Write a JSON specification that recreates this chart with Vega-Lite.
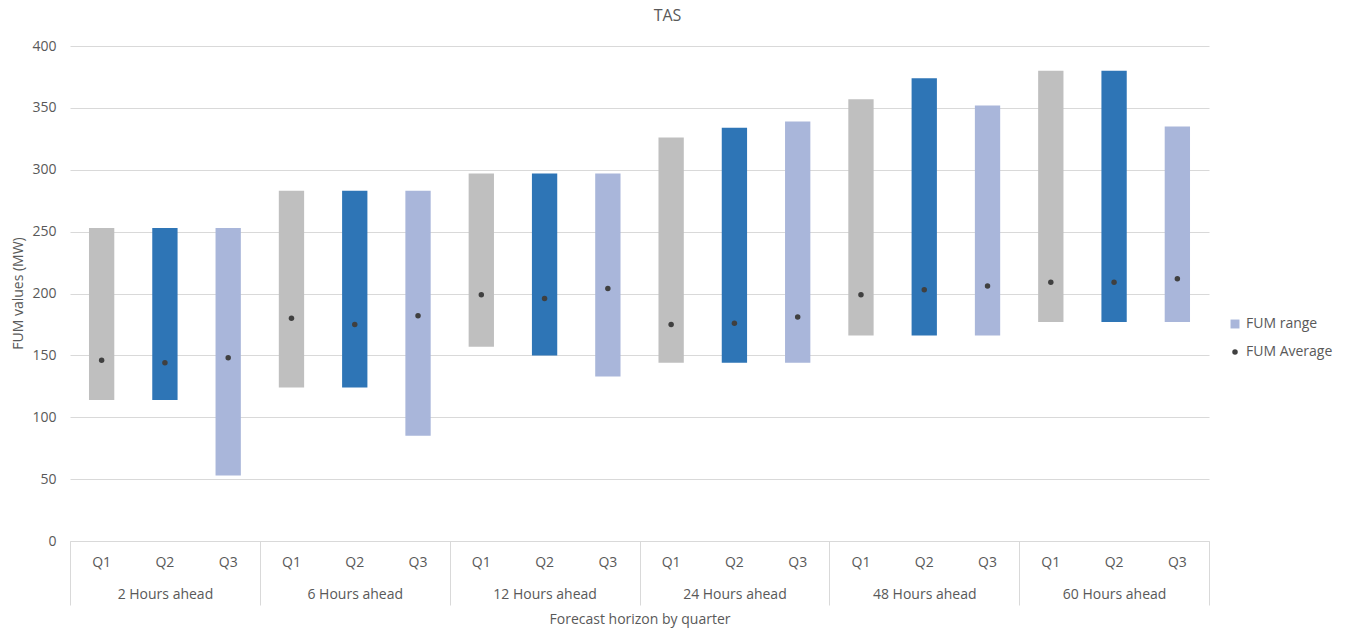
{
  "$schema": "https://vega.github.io/schema/vega-lite/v6.json",
  "autosize": "none",
  "width": 1139,
  "height": 495,
  "padding": {"left": 70, "top": 46, "right": 140, "bottom": 89},
  "background": "white",
  "title": {"text": "TAS", "anchor": "middle", "dx": 28, "offset": 15, "fontSize": 16, "font": "Open Sans", "fontWeight": "normal", "color": "#595959"},
  "config": {"view": {"stroke": null}, "font": "Open Sans"},
  "data": {"values": [
    {"horizon": "2 Hours ahead", "quarter": "Q1", "key": "2 Hours ahead Q1", "low": 114, "high": 253, "avg": 146},
    {"horizon": "2 Hours ahead", "quarter": "Q2", "key": "2 Hours ahead Q2", "low": 114, "high": 253, "avg": 144},
    {"horizon": "2 Hours ahead", "quarter": "Q3", "key": "2 Hours ahead Q3", "low": 53, "high": 253, "avg": 148},
    {"horizon": "6 Hours ahead", "quarter": "Q1", "key": "6 Hours ahead Q1", "low": 124, "high": 283, "avg": 180},
    {"horizon": "6 Hours ahead", "quarter": "Q2", "key": "6 Hours ahead Q2", "low": 124, "high": 283, "avg": 175},
    {"horizon": "6 Hours ahead", "quarter": "Q3", "key": "6 Hours ahead Q3", "low": 85, "high": 283, "avg": 182},
    {"horizon": "12 Hours ahead", "quarter": "Q1", "key": "12 Hours ahead Q1", "low": 157, "high": 297, "avg": 199},
    {"horizon": "12 Hours ahead", "quarter": "Q2", "key": "12 Hours ahead Q2", "low": 150, "high": 297, "avg": 196},
    {"horizon": "12 Hours ahead", "quarter": "Q3", "key": "12 Hours ahead Q3", "low": 133, "high": 297, "avg": 204},
    {"horizon": "24 Hours ahead", "quarter": "Q1", "key": "24 Hours ahead Q1", "low": 144, "high": 326, "avg": 175},
    {"horizon": "24 Hours ahead", "quarter": "Q2", "key": "24 Hours ahead Q2", "low": 144, "high": 334, "avg": 176},
    {"horizon": "24 Hours ahead", "quarter": "Q3", "key": "24 Hours ahead Q3", "low": 144, "high": 339, "avg": 181},
    {"horizon": "48 Hours ahead", "quarter": "Q1", "key": "48 Hours ahead Q1", "low": 166, "high": 357, "avg": 199},
    {"horizon": "48 Hours ahead", "quarter": "Q2", "key": "48 Hours ahead Q2", "low": 166, "high": 374, "avg": 203},
    {"horizon": "48 Hours ahead", "quarter": "Q3", "key": "48 Hours ahead Q3", "low": 166, "high": 352, "avg": 206},
    {"horizon": "60 Hours ahead", "quarter": "Q1", "key": "60 Hours ahead Q1", "low": 177, "high": 380, "avg": 209},
    {"horizon": "60 Hours ahead", "quarter": "Q2", "key": "60 Hours ahead Q2", "low": 177, "high": 380, "avg": 209},
    {"horizon": "60 Hours ahead", "quarter": "Q3", "key": "60 Hours ahead Q3", "low": 177, "high": 335, "avg": 212}
  ]},
  "resolve": {"scale": {"x": "independent"}, "axis": {"x": "independent"}},
  "layer": [
    {
      "encoding": {
        "x": {
          "field": "key", "type": "nominal", "sort": null,
          "scale": {"paddingInner": 0.6, "paddingOuter": 0.3},
          "axis": {
            "title": null, "orient": "bottom", "labelExpr": "slice(datum.value, -2)", "labelAngle": 0,
            "ticks": false, "domain": true, "domainColor": "#D9D9D9", "domainWidth": 1,
            "labelPadding": 14, "labelFontSize": 14, "labelColor": "#595959", "labelFont": "Open Sans", "grid": false
          }
        }
      },
      "layer": [
        {
          "mark": {"type": "bar"},
          "encoding": {
            "y": {
              "field": "low", "type": "quantitative",
              "scale": {"domain": [0, 400], "nice": false, "zero": true},
              "axis": {
                "values": [0, 50, 100, 150, 200, 250, 300, 350, 400],
                "title": "FUM values (MW)", "titleFontSize": 14, "titleFontWeight": "normal", "titleColor": "#595959", "titleFont": "Open Sans",
                "titleX": -52, "titleY": 247, "titleBaseline": "middle", "titleAngle": -90,
                "domain": false, "ticks": false, "labelPadding": 14, "labelFontSize": 14, "labelColor": "#595959", "labelFont": "Open Sans",
                "grid": true, "gridColor": "#D9D9D9", "gridWidth": 1
              }
            },
            "y2": {"field": "high"},
            "fill": {
              "field": "quarter", "type": "nominal",
              "scale": {"domain": ["Q1", "Q2", "Q3"], "range": ["#BFBFBF", "#2E75B6", "#A9B6DA"]},
              "legend": null
            }
          }
        },
        {
          "mark": {"type": "point", "filled": true, "opacity": 1, "strokeWidth": 0},
          "encoding": {
            "y": {"field": "avg", "type": "quantitative"},
            "shape": {
              "datum": "FUM Average",
              "scale": {"domain": ["FUM range", "FUM Average"], "range": ["square", "circle"]},
              "legend": {
                "orient": "none", "legendX": 1158, "legendY": 271, "title": null, "padding": 0,
                "labelFontSize": 14, "labelColor": "#595959", "labelFont": "Open Sans", "rowPadding": 14,
                "symbolStrokeWidth": 0, "symbolOpacity": 1
              }
            },
            "color": {
              "datum": "FUM Average",
              "scale": {"domain": ["FUM range", "FUM Average"], "range": ["#A9B6DA", "#404040"]},
              "legend": {
                "orient": "none", "legendX": 1158, "legendY": 271, "title": null, "padding": 0,
                "labelFontSize": 14, "labelColor": "#595959", "labelFont": "Open Sans", "rowPadding": 14,
                "symbolStrokeWidth": 0, "symbolOpacity": 1
              }
            },
            "size": {
              "datum": "FUM Average",
              "scale": {"domain": ["FUM range", "FUM Average"], "range": [80, 30]},
              "legend": {
                "orient": "none", "legendX": 1158, "legendY": 271, "title": null, "padding": 0,
                "labelFontSize": 14, "labelColor": "#595959", "labelFont": "Open Sans", "rowPadding": 14,
                "symbolStrokeWidth": 0, "symbolOpacity": 1
              }
            }
          }
        }
      ]
    },
    {
      "mark": {"type": "point", "opacity": 0},
      "encoding": {
        "x": {
          "field": "horizon", "type": "nominal", "sort": null,
          "scale": {"paddingInner": 0, "paddingOuter": 0},
          "axis": {
            "orient": "bottom", "title": "Forecast horizon by quarter", "titleFontSize": 14, "titleFontWeight": "normal", "titleColor": "#595959", "titleFont": "Open Sans",
            "titleY": 78, "titleBaseline": "middle",
            "domain": false, "ticks": true, "tickBand": "extent", "tickSize": 64, "tickColor": "#D9D9D9", "tickWidth": 1,
            "labelAngle": 0, "labelPadding": -18, "labelFontSize": 14, "labelColor": "#595959", "labelFont": "Open Sans", "grid": false
          }
        }
      }
    }
  ]
}
